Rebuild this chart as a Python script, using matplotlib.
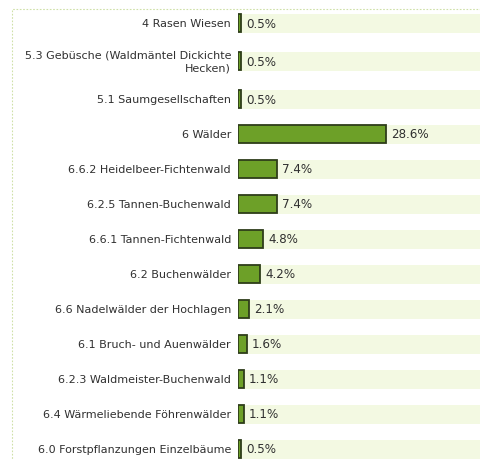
import matplotlib

matplotlib.use("Agg")
import matplotlib.pyplot as plt
from matplotlib.patches import Rectangle

labels = [
    "4 Rasen Wiesen",
    "5.3 Gebüsche (Waldmäntel Dickichte\nHecken)",
    "5.1 Saumgesellschaften",
    "6 Wälder",
    "6.6.2 Heidelbeer-Fichtenwald",
    "6.2.5 Tannen-Buchenwald",
    "6.6.1 Tannen-Fichtenwald",
    "6.2 Buchenwälder",
    "6.6 Nadelwälder der Hochlagen",
    "6.1 Bruch- und Auenwälder",
    "6.2.3 Waldmeister-Buchenwald",
    "6.4 Wärmeliebende Föhrenwälder",
    "6.0 Forstpflanzungen Einzelbäume",
]
values = [0.5, 0.5, 0.5, 28.6, 7.4, 7.4, 4.8, 4.2, 2.1, 1.6, 1.1, 1.1, 0.5]

W, H = 481, 460
PX_PER_PCT = 5.15
x0 = 238.5

# row layout in pixels: two-line labels get a bit more room
rows = []
y = 24.0
for i, lab in enumerate(labels):
    if i > 0:
        multi = "\n" in lab or "\n" in labels[i - 1]
        y += 38.0 if multi else 35.0
    rows.append(y)

fig = plt.figure(figsize=(W / 100, H / 100), dpi=100)
fig.patch.set_facecolor("white")

# dotted frame around the chart area
fig.patches.append(Rectangle((12 / W, -0.05), 1.0, 1.05 - 10 / H, transform=fig.transFigure,
                             fill=False, edgecolor="#cfe0a8", linewidth=0.8, linestyle=(0, (1.5, 1.5))))

ax = fig.add_axes([x0 / W, 0, (W - x0) / W, 1])
ax.set_xlim(0, (W - x0) / PX_PER_PCT)
ax.set_ylim(H, 0)
ax.axis("off")

ax.barh(rows, [100] * len(rows), height=19, left=0, color="#f3f9e2", edgecolor="none", zorder=1)
ax.barh(rows, values, height=17.5, color="#6da028", edgecolor="#2e3d1a", linewidth=1.3, zorder=2)

for yy, v in zip(rows, values):
    ax.text(v + 0.95, yy, f"{v}%", va="center", ha="left", fontsize=8.6,
            color="#303030", zorder=3)

for yy, lab in zip(rows, labels):
    ax.text(-1.45, yy, lab, va="center", ha="right", fontsize=8.0, color="#303030",
            multialignment="right", clip_on=False, linespacing=1.45)

fig.savefig("out.png", dpi=100)
